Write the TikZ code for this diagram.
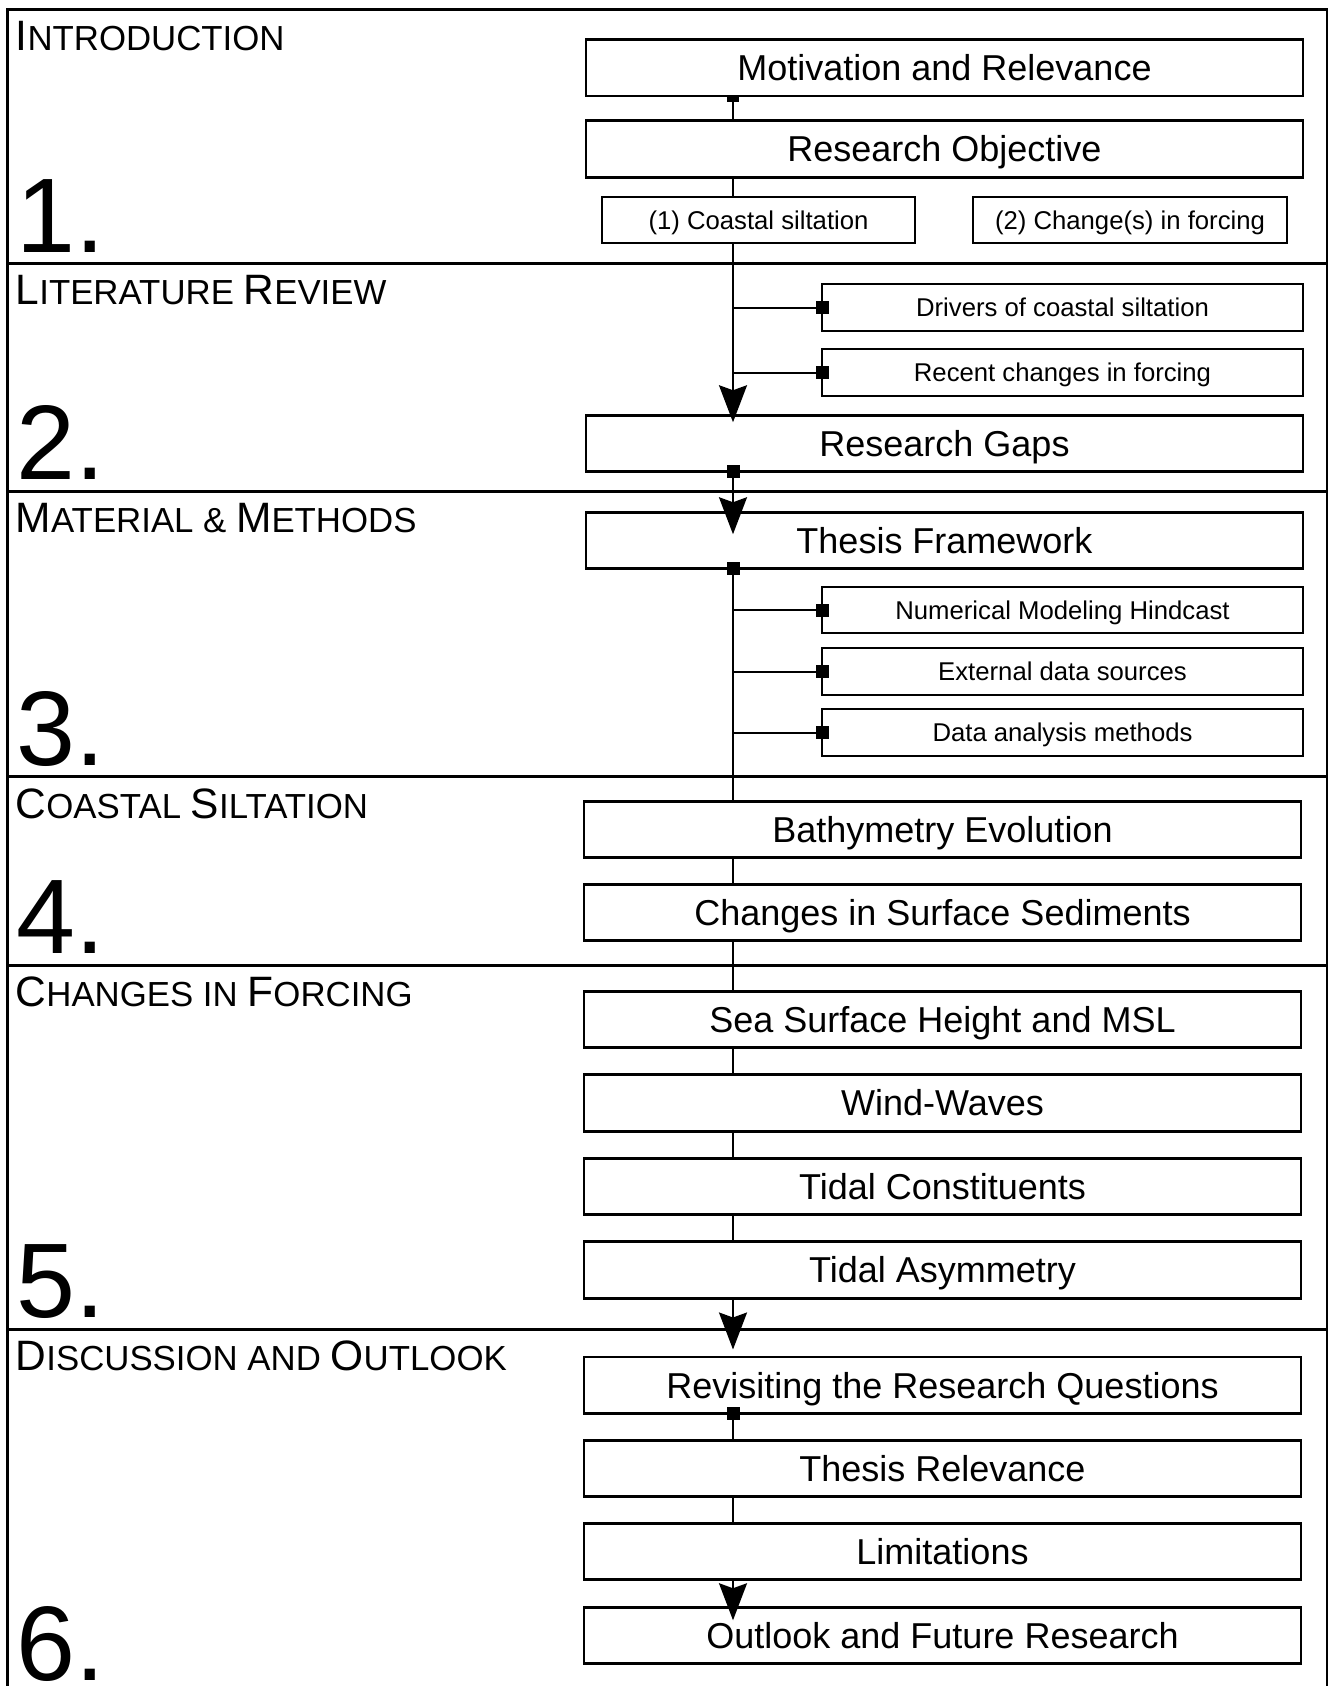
\documentclass[tikz,border=0pt]{standalone}
\usepackage{fontspec}
\setmainfont{Liberation Sans}
\usetikzlibrary{arrows.meta,backgrounds}
\newcommand\capA{\fontsize{42.5}{48}\selectfont}
\newcommand\capB{\fontsize{34.8}{40}\selectfont}
\begin{document}
\begin{tikzpicture}[x=1pt,y=-1pt,
  bigbox/.style={draw, line width=2.8pt, fill=white, inner sep=0pt, outer sep=0pt,
    minimum width=717pt, minimum height=56.5pt, font=\fontsize{36}{40}\selectfont,
    text height=25.8pt, text depth=0pt},
  smallbox/.style={draw, line width=2pt, fill=white, inner sep=0pt, outer sep=0pt,
    minimum width=481pt, minimum height=46.5pt, font=\fontsize{25.7}{30}\selectfont,
    text height=18.4pt, text depth=0pt},
  sectitle/.style={anchor=base west, inner sep=0pt},
  secnum/.style={anchor=base west, inner sep=0pt, font=\fontsize{106}{110}\selectfont},
  conn/.style={line width=2pt},
  arr/.style={line width=2pt, -{Stealth[length=37pt,width=28pt,inset=5pt]}},
  frame/.style={line width=2.5pt},
  divider/.style={line width=3pt}
]
\useasboundingbox (0,0) rectangle (1333,1686);

% frame and dividers
\draw[frame] (7.5,1700) -- (7.5,9.3) -- (1327,9.3) -- (1327,1700);
\foreach \yy in {263.3,491,776.5,965,1329.3}
  \draw[divider] (7.5,\yy) -- (1327,\yy);

% section titles
\node[sectitle] (t1) at (15.5,50.7) {\capA I\capB NTRODUCTION};
\node[sectitle] (t2) at (15.5,304.8) {\capA L\capB ITERATURE \capA R\capB EVIEW};
\node[sectitle] (t3) at (15.5,532.5) {\capA M\capB ATERIAL \& \capA M\capB ETHODS};
\node[sectitle] (t4) at (15.5,818.2) {\capA C\capB OASTAL \capA S\capB ILTATION};
\node[sectitle] (t5) at (15.5,1006.7) {\capA C\capB HANGES IN \capA F\capB ORCING};
\node[sectitle] (t6) at (15.5,1370.8) {\capA D\capB ISCUSSION AND \capA O\capB UTLOOK};

% section numbers
\node[secnum] (n1) at (16,252.7) {1.};
\node[secnum] (n2) at (16,479.5) {2.};
\node[secnum] (n3) at (16,765) {3.};
\node[secnum] (n4) at (16,953.5) {4.};
\node[secnum] (n5) at (16,1317) {5.};
\node[secnum] (n6) at (16,1680) {6.};

\coordinate (sp) at (733,0);

% boxes
\node[bigbox] (mot) at (944.5,67.75) {Motivation and Relevance};
\node[bigbox] (obj) at (944.5,149) {Research Objective};
\node[smallbox, minimum width=313pt] (cs) at (758.5,220) {(1) Coastal siltation};
\node[smallbox, minimum width=314pt] (cf) at (1130,220) {(2) Change(s) in forcing};
\node[smallbox] (drv) at (1062.5,307.5) {Drivers of coastal siltation};
\node[smallbox] (rec) at (1062.5,372.5) {Recent changes in forcing};
\node[bigbox] (gap) at (944.5,443.5) {Research Gaps};
\node[bigbox] (tf) at (944.5,540.5) {Thesis Framework};
\node[smallbox] (num) at (1062.5,610) {Numerical Modeling Hindcast};
\node[smallbox] (ext) at (1062.5,671.5) {External data sources};
\node[smallbox] (dat) at (1062.5,732.5) {Data analysis methods};
\node[bigbox] (bat) at (942.5,829.5) {Bathymetry Evolution};
\node[bigbox] (sed) at (942.5,912.5) {Changes in Surface Sediments};
\node[bigbox] (ssh) at (942.5,1019.5) {Sea Surface Height and MSL};
\node[bigbox] (ww) at (942.5,1103) {Wind-Waves};
\node[bigbox] (tc) at (942.5,1186.5) {Tidal Constituents};
\node[bigbox] (ta) at (942.5,1270) {Tidal Asymmetry};
\node[bigbox] (rev) at (942.5,1385.25) {Revisiting the Research Questions};
\node[bigbox] (rel) at (942.5,1468.5) {Thesis Relevance};
\node[bigbox] (lim) at (942.5,1551.5) {Limitations};
\node[bigbox] (out) at (942.5,1635.5) {Outlook and Future Research};

% marker half hidden behind the Motivation box
\begin{pgfonlayer}{background}
  \fill (mot.south -| sp) ++(-6,-6) rectangle ++(12,12);
\end{pgfonlayer}

% connectors
\draw[conn] (mot.south -| sp) -- (obj.north -| sp);
\draw[conn] (obj.south -| sp) -- (cs.north -| sp);
\draw[arr, shorten >=-7pt] (cs.south -| sp) -- (gap.north -| sp);
\draw[conn] (drv.west -| sp) -- (drv.west);
\fill (drv.west) ++(-6.5,-6.5) rectangle ++(13,13);
\draw[conn] (rec.west -| sp) -- (rec.west);
\fill (rec.west) ++(-6.5,-6.5) rectangle ++(13,13);

\draw[arr, shorten >=-22pt] (gap.south -| sp) -- (tf.north -| sp);
\fill (gap.south -| sp) ++(-6.5,-6.5) rectangle ++(13,13);

\draw[conn] (tf.south -| sp) -- (bat.north -| sp);
\fill (tf.south -| sp) ++(-6.5,-6.5) rectangle ++(13,13);
\draw[conn] (num.west -| sp) -- (num.west);
\fill (num.west) ++(-6.5,-6.5) rectangle ++(13,13);
\draw[conn] (ext.west -| sp) -- (ext.west);
\fill (ext.west) ++(-6.5,-6.5) rectangle ++(13,13);
\draw[conn] (dat.west -| sp) -- (dat.west);
\fill (dat.west) ++(-6.5,-6.5) rectangle ++(13,13);

\draw[conn] (bat.south -| sp) -- (sed.north -| sp);
\draw[conn] (sed.south -| sp) -- (ssh.north -| sp);
\draw[conn] (ssh.south -| sp) -- (ww.north -| sp);
\draw[conn] (ww.south -| sp) -- (tc.north -| sp);
\draw[conn] (tc.south -| sp) -- (ta.north -| sp);
\draw[arr, shorten >=7.5pt] (ta.south -| sp) -- (rev.north -| sp);

\draw[conn] (rev.south -| sp) -- (rel.north -| sp);
\fill (rev.south -| sp) ++(-6.5,-6.5) rectangle ++(13,13);
\draw[conn] (rel.south -| sp) -- (lim.north -| sp);
\draw[arr, shorten >=-13pt] (lim.south -| sp) -- (out.north -| sp);
\end{tikzpicture}
\end{document}
